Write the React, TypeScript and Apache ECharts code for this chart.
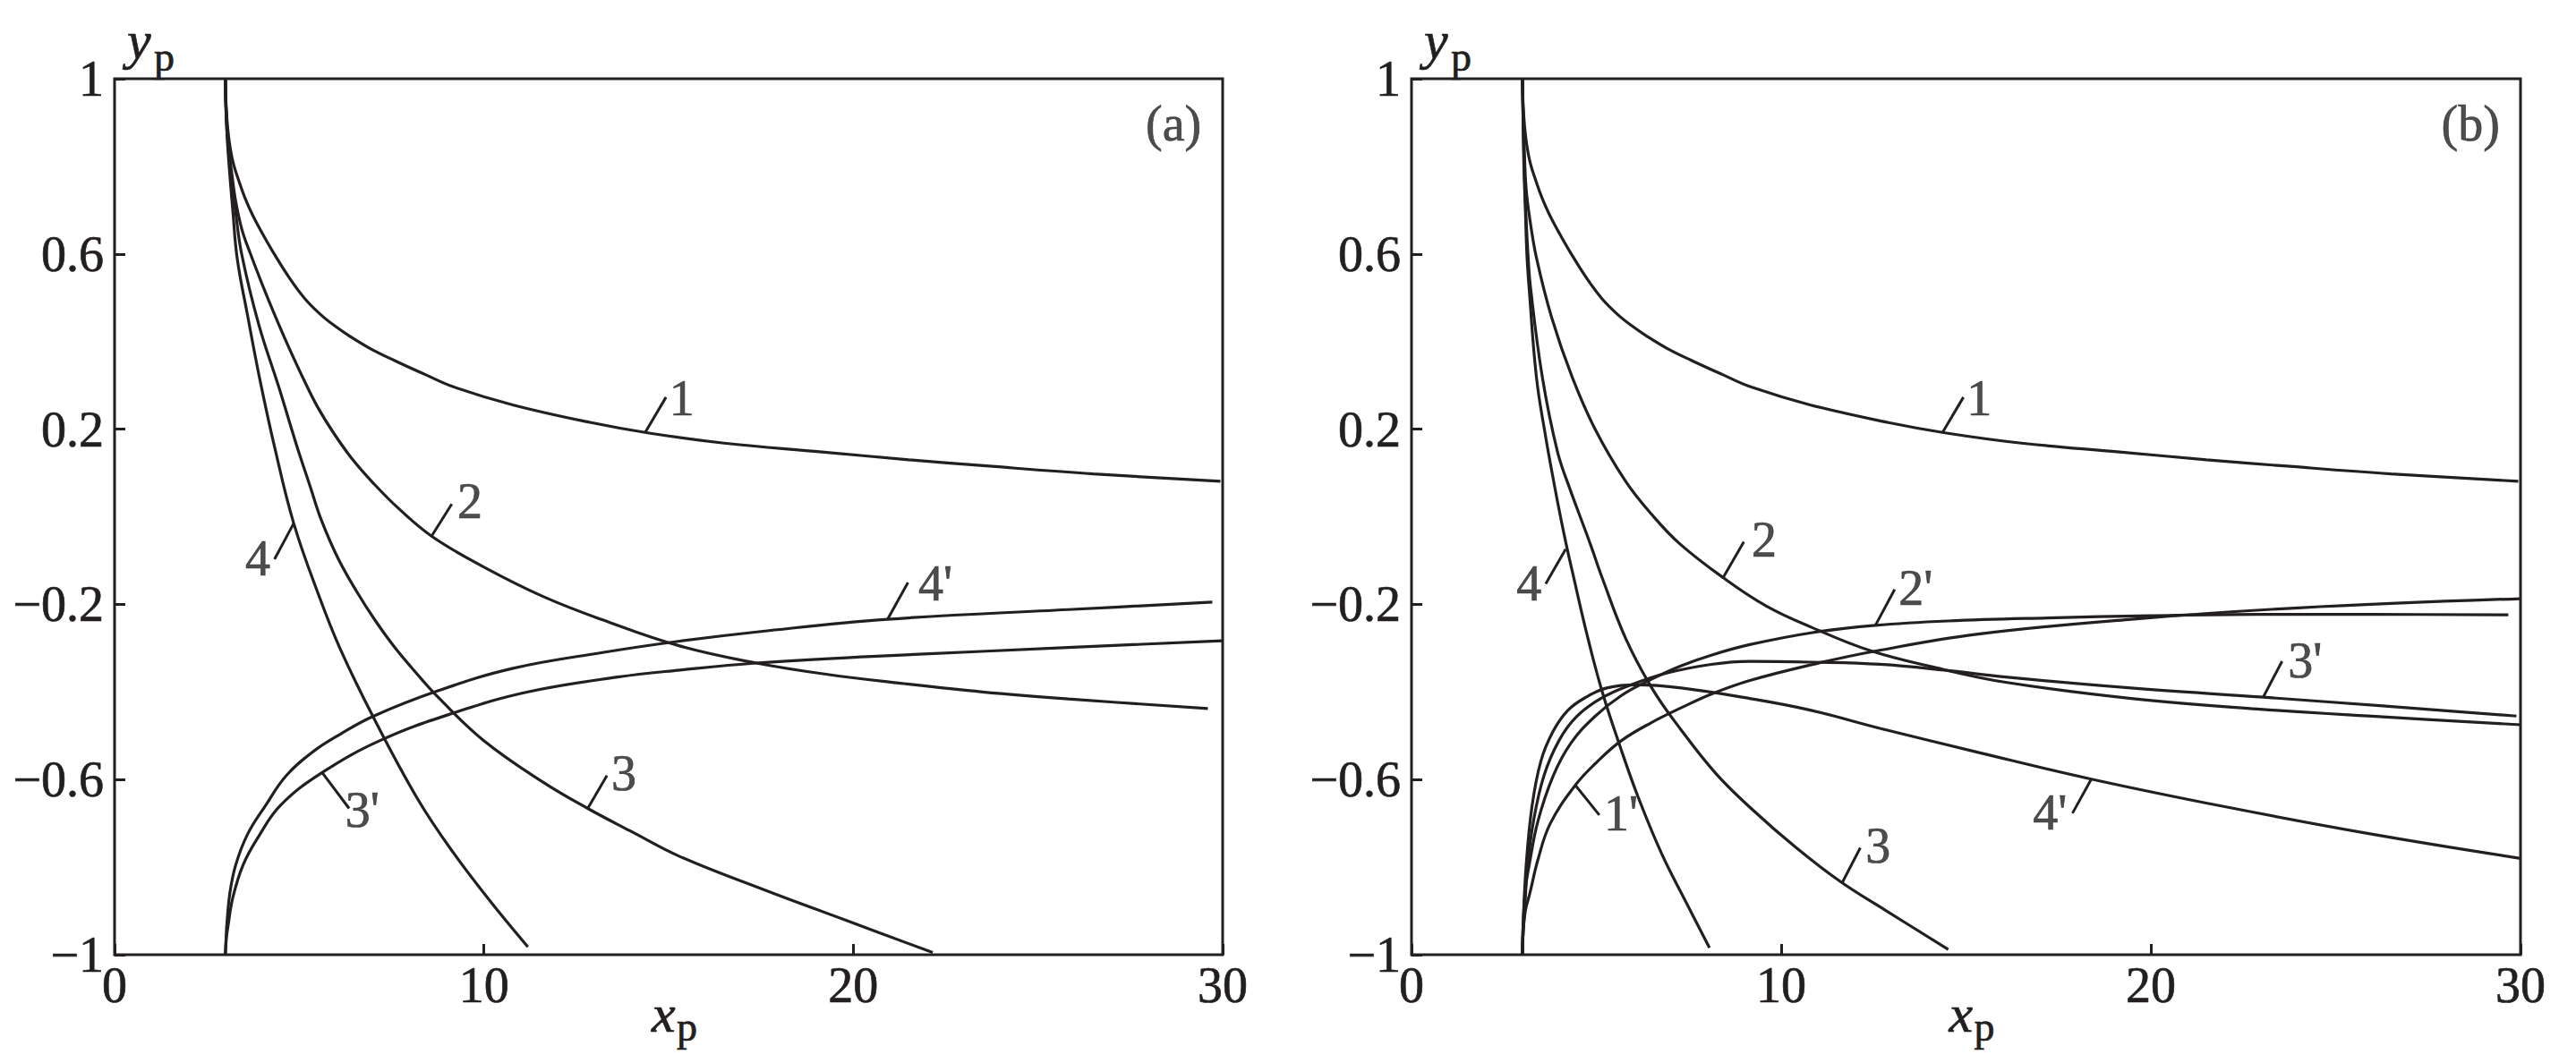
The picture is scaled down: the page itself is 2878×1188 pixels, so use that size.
import React, { useEffect, useRef } from "react";
import * as echarts from "echarts";

// ---------- axis ticks ----------
const xTicks = [0, 10, 20, 30];
const yTicks = [-1, -0.6, -0.2, 0.2, 0.6, 1];

// ---------- curve 1 (identical in both panels) ----------
const curve1 = [
  [3.0, 1.0], [3.02, 0.94], [3.06, 0.89], [3.12, 0.848], [3.22, 0.805], [3.36, 0.768],
  [3.53, 0.728], [3.73, 0.69], [4.0, 0.647], [4.3, 0.603], [4.75, 0.543], [5.15, 0.498],
  [5.56, 0.463], [5.94, 0.437], [6.37, 0.412], [6.9, 0.385], [7.57, 0.357], [8.4, 0.325],
  [9.19, 0.296], [10.8, 0.255], [12.9, 0.215], [14.47, 0.191], [16.5, 0.168],
  [19.15, 0.148], [21.5, 0.13], [23.6, 0.116], [26.5, 0.098], [29.94, 0.081],
];

// ---------- panel (a) ----------
const curve2a = [
  [3.0, 1.0], [3.02, 0.93], [3.08, 0.85], [3.18, 0.78], [3.28, 0.72], [3.45, 0.655],
  [3.68, 0.6], [4.0, 0.53], [4.33, 0.462], [4.7, 0.39], [5.14, 0.31], [5.5, 0.25],
  [5.94, 0.19], [6.45, 0.13], [6.99, 0.078], [7.7, 0.018], [8.61, -0.046], [9.98, -0.114],
  [11.6, -0.182], [13.2, -0.235], [15.3, -0.295], [17.37, -0.334], [19.3, -0.36],
  [21.37, -0.381], [23.5, -0.4], [25.82, -0.416], [29.6, -0.438],
];
const curve3a = [
  [3.0, 1.0], [3.02, 0.92], [3.07, 0.85], [3.16, 0.77], [3.27, 0.7], [3.44, 0.6],
  [3.9, 0.44], [4.45, 0.295], [4.94, 0.16], [5.3, 0.068], [5.6, -0.008], [6.05, -0.095],
  [6.55, -0.17], [7.05, -0.236], [7.6, -0.3], [8.2, -0.36], [8.77, -0.413], [9.98, -0.51],
  [11.6, -0.606], [12.81, -0.666], [14.02, -0.72], [15.31, -0.776], [17.59, -0.852],
  [19.82, -0.922], [22.15, -0.995],
];
const curve4a = [
  [3.0, 1.0], [3.02, 0.92], [3.06, 0.85], [3.13, 0.77], [3.2, 0.7], [3.32, 0.59],
  [3.6, 0.46], [3.93, 0.315], [4.33, 0.16], [4.85, -0.015], [5.54, -0.182], [6.1, -0.3],
  [6.99, -0.455], [8.21, -0.645], [9.18, -0.768], [10.23, -0.884], [11.19, -0.982],
];
const curve3pa = [
  [3.0, -1.0], [3.03, -0.96], [3.08, -0.93], [3.2, -0.87], [3.48, -0.795], [3.9, -0.73],
  [4.49, -0.659], [5.62, -0.584], [7.24, -0.509], [9.18, -0.448], [11.19, -0.4],
  [13.62, -0.366], [15.31, -0.35], [17.37, -0.334], [20.5, -0.319], [23.6, -0.307],
  [29.98, -0.283],
];
const curve4pa = [
  [3.0, -1.0], [3.02, -0.96], [3.04, -0.93], [3.12, -0.86], [3.28, -0.795], [3.6, -0.725],
  [4.09, -0.659], [4.65, -0.591], [5.38, -0.536], [6.1, -0.497], [6.99, -0.456],
  [8.77, -0.397], [10.79, -0.346], [13.21, -0.31], [15.31, -0.284], [17.5, -0.262],
  [20.93, -0.234], [25.82, -0.212], [29.72, -0.195],
];

// ---------- panel (b) ----------
const curve2b = [
  [3.0, 1.0], [3.02, 0.92], [3.05, 0.84], [3.1, 0.75], [3.2, 0.68], [3.38, 0.591],
  [3.79, 0.455], [4.35, 0.318], [4.99, 0.196], [5.8, 0.08], [6.5, 0.005], [7.26, -0.062],
  [8.43, -0.139], [9.6, -0.204], [10.81, -0.252], [12.42, -0.306], [14.2, -0.345],
  [16.07, -0.378], [19.47, -0.415], [22.87, -0.439], [26.27, -0.457], [30, -0.475],
];
const curve3b = [
  [3.0, 1.0], [3.02, 0.9], [3.05, 0.8], [3.09, 0.7], [3.15, 0.6], [3.22, 0.523],
  [3.54, 0.318], [3.95, 0.148], [4.3, 0.06], [4.59, -0.006], [4.84, -0.063], [5.16, -0.14],
  [5.8, -0.279], [6.53, -0.395], [7.26, -0.483], [8.23, -0.586], [9.2, -0.667],
  [10.41, -0.756], [11.62, -0.834], [12.83, -0.899], [14.52, -0.988],
];
const curve4b = [
  [3.0, 1.0], [3.02, 0.9], [3.04, 0.8], [3.08, 0.7], [3.12, 0.6], [3.18, 0.523],
  [3.38, 0.318], [3.63, 0.182], [3.87, 0.07], [4.03, 0.0], [4.19, -0.065], [4.35, -0.125],
  [4.75, -0.27], [5.16, -0.4], [5.64, -0.524], [6.13, -0.64], [6.77, -0.77], [7.42, -0.879],
  [8.06, -0.984],
];
const curve1pb = [
  [3.0, -1.0], [3.02, -0.95], [3.08, -0.9], [3.2, -0.86], [3.42, -0.783], [3.75, -0.701],
  [4.43, -0.613], [5.04, -0.558], [5.68, -0.511], [6.49, -0.47], [7.3, -0.436],
  [8.11, -0.405], [9.15, -0.374], [10.81, -0.338], [12.6, -0.306], [15.33, -0.268],
  [19.47, -0.234], [24, -0.208], [30, -0.187],
];
const curve2pb = [
  [3.0, -1.0], [3.02, -0.93], [3.08, -0.85], [3.18, -0.797], [3.42, -0.695], [3.83, -0.592],
  [4.31, -0.517], [4.96, -0.456], [5.68, -0.408], [6.49, -0.371], [7.3, -0.34],
  [8.11, -0.316], [9.15, -0.292], [10.81, -0.265], [12.55, -0.248], [14.5, -0.238],
  [17.2, -0.231], [20, -0.226], [22.86, -0.223], [26, -0.223], [29.67, -0.224],
];
const curve3pb = [
  [3.0, -1.0], [3.02, -0.95], [3.06, -0.899], [3.14, -0.797], [3.3, -0.695], [3.58, -0.592],
  [3.99, -0.511], [4.47, -0.456], [5.12, -0.415], [5.93, -0.384], [6.9, -0.357],
  [8.11, -0.337], [9.15, -0.33], [10.81, -0.332], [12.67, -0.337], [14.4, -0.35],
  [16.07, -0.366], [19.47, -0.391], [23.04, -0.412], [26.27, -0.432], [29.89, -0.455],
];
const curve4pb = [
  [3.0, -1.0], [3.02, -0.93], [3.1, -0.797], [3.26, -0.661], [3.5, -0.558], [3.83, -0.49],
  [4.23, -0.442], [4.72, -0.412], [5.28, -0.391], [6.09, -0.384], [7.3, -0.391],
  [9.15, -0.415], [10.81, -0.442], [12.67, -0.483], [15.33, -0.538], [18.39, -0.599],
  [22, -0.662], [26, -0.725], [30, -0.78],
];

// ---------- curve labels (text anchor and leader line, in data units) ----------
const labelTextA = ["1", "2", "4", "3", "3'", "4'", "(a)"];
const labelAtA = [[15.36, 0.271], [9.62, 0.036], [3.88, -0.095], [13.79, -0.585], [6.71, -0.669], [22.22, -0.152], [28.67, 0.898]];
const leadersA = [
  [[14.37, 0.193], [14.93, 0.273]],
  [[8.57, -0.046], [9.13, 0.029]],
  [[4.85, -0.015], [4.33, -0.097]],
  [[12.81, -0.666], [13.33, -0.591]],
  [[5.62, -0.584], [6.35, -0.666]],
  [[20.93, -0.234], [21.48, -0.15]],
];
const labelTextB = ["1", "2", "4", "2'", "3", "1'", "3'", "4'", "(b)"];
const labelAtB = [[15.36, 0.271], [9.54, -0.053], [3.18, -0.153], [13.64, -0.162], [12.62, -0.751], [5.67, -0.677], [24.17, -0.327], [17.27, -0.675], [28.65, 0.898]];
const leadersB = [
  [[14.37, 0.193], [14.93, 0.273]],
  [[8.43, -0.139], [8.99, -0.057]],
  [[4.17, -0.074], [3.63, -0.153]],
  [[12.55, -0.248], [13.07, -0.166]],
  [[11.66, -0.834], [12.14, -0.756]],
  [[4.43, -0.613], [5.08, -0.681]],
  [[23.04, -0.412], [23.55, -0.33]],
  [[18.39, -0.599], [17.88, -0.677]],
];

// ---------- styles / layout ----------
const FONT = '"Liberation Serif", "Times New Roman", Times, serif';
const INK = "#231f20";
const FS = 56;
const GRIDS = [
  { left: 128, top: 88, width: 1238, height: 979 },
  { left: 1577, top: 88, width: 1239, height: 979 },
];

const fmtY = (v: number) => (v < 0 ? "\u2212" + String(Math.abs(v)) : String(v));

export default function App() {
  const ref = useRef<HTMLDivElement>(null);
  useEffect(() => {
    if (!ref.current) return;
    const chart = echarts.init(ref.current, null, { renderer: "svg" });

    const curveSets = [
      [curve1, curve2a, curve3a, curve4a, curve3pa, curve4pa],
      [curve1, curve2b, curve3b, curve4b, curve1pb, curve2pb, curve3pb, curve4pb],
    ];
    const labelTexts = [labelTextA, labelTextB];
    const labelAts = [labelAtA, labelAtB];
    const leaders = [leadersA, leadersB];

    const textInk = { color: INK, textBorderColor: INK, textBorderWidth: 0.7 };

    const series: any[] = [];
    curveSets.forEach((set, g) => {
      set.forEach((d) => {
        series.push({
          type: "line",
          xAxisIndex: g,
          yAxisIndex: g,
          data: d,
          symbol: "none",
          showSymbol: false,
          smooth: 0.4,
          silent: true,
          lineStyle: { color: INK, width: 3.2 },
        });
      });
      series.push({
        type: "lines",
        coordinateSystem: "cartesian2d",
        xAxisIndex: g,
        yAxisIndex: g,
        silent: true,
        data: leaders[g].map((c) => ({ coords: c })),
        lineStyle: { color: INK, width: 3, opacity: 1 },
      });
      series.push({
        type: "scatter",
        xAxisIndex: g,
        yAxisIndex: g,
        silent: true,
        symbolSize: 1,
        itemStyle: { color: "rgba(0,0,0,0)" },
        data: labelTexts[g].map((t, i) => ({ name: t, value: labelAts[g][i] })),
        label: {
          show: true,
          position: "inside",
          formatter: "{b}",
          fontFamily: FONT,
          fontSize: FS,
          ...textInk,
        },
      });
    });

    const graphic: any[] = [];
    const gText = (x: number, y: number, text: string, size: number, italic: boolean) => ({
      type: "text",
      x,
      y,
      style: {
        text,
        fontFamily: FONT,
        fontStyle: italic ? "italic" : "normal",
        fontSize: size,
        fill: INK,
        stroke: INK,
        lineWidth: 0.7,
        verticalAlign: "middle",
        align: "left",
      },
    });
    GRIDS.forEach((gr) => {
      const cx = gr.left + gr.width / 2;
      const bottom = gr.top + gr.height;
      graphic.push(
        gText(gr.left + 14, gr.top - 43, "y", 60, true),
        gText(gr.left + 44, gr.top - 25, "p", 46, false),
        gText(cx - 19, bottom + 66, "x", 60, true),
        gText(cx + 9, bottom + 80, "p", 46, false)
      );
    });

    chart.setOption({
      animation: false,
      backgroundColor: "#ffffff",
      grid: GRIDS.map((g) => ({
        ...g,
        show: true,
        borderColor: INK,
        borderWidth: 3,
        backgroundColor: "transparent",
        containLabel: false,
      })),
      xAxis: GRIDS.map((_, i) => ({
        type: "value",
        gridIndex: i,
        min: 0,
        max: 30,
        interval: 10,
        axisLine: { show: false, onZero: false },
        splitLine: { show: false },
        axisTick: { show: true, inside: true, length: 12, lineStyle: { color: INK, width: 3 }, customValues: xTicks },
        axisLabel: { customValues: xTicks, fontFamily: FONT, fontSize: FS, margin: 6, ...textInk },
      })),
      yAxis: GRIDS.map((_, i) => ({
        type: "value",
        gridIndex: i,
        min: -1,
        max: 1,
        axisLine: { show: false, onZero: false },
        splitLine: { show: false },
        axisTick: { show: true, inside: true, length: 12, lineStyle: { color: INK, width: 3 }, customValues: yTicks },
        axisLabel: { customValues: yTicks, formatter: fmtY, fontFamily: FONT, fontSize: FS, margin: 12, ...textInk },
      })),
      graphic,
      series,
    });
    return () => chart.dispose();
  }, []);

  return (
    <div
      ref={ref}
      style={{ position: "fixed", left: 0, top: 0, width: "2878px", height: "1188px", background: "#fff" }}
    />
  );
}
